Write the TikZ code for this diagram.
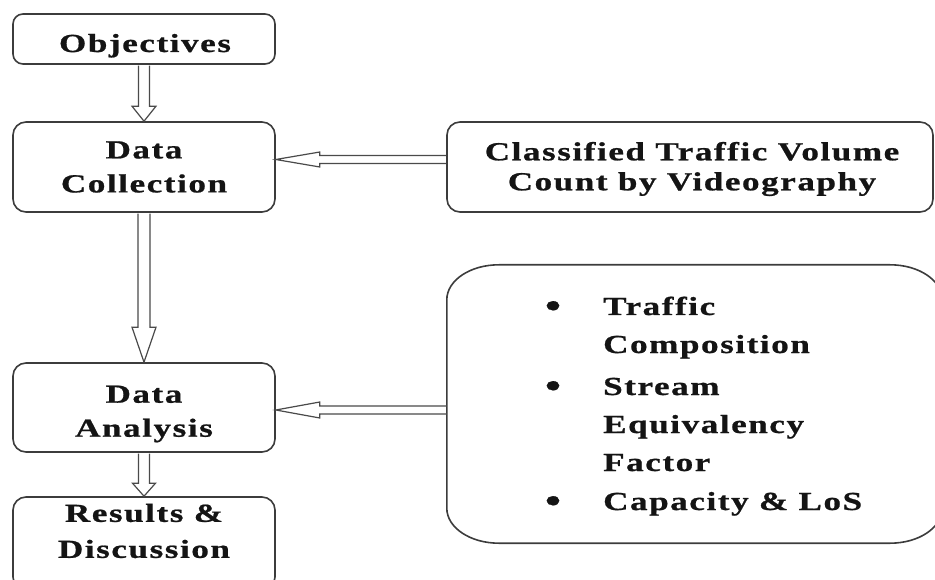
\documentclass[tikz,border=0pt]{standalone}
\usepackage{fontspec}
\setmainfont{Liberation Serif}[FakeStretch=1.35, LetterSpace=6, FakeBold=0.8]
\usetikzlibrary{calc}

\definecolor{linegray}{HTML}{3C3C3C}
\definecolor{arrowgray}{HTML}{4A4A4A}
\definecolor{inkblack}{HTML}{141414}

\newcommand\flowfont{\bfseries\fontsize{26}{34}\selectfont}

% hollow block arrow pointing down: start, tip, head length, shaft half width, head half width
\newcommand\blockdown[5]{%
  \draw[arrowline] ($(#1)+(-#4,0)$) -- ($(#2)+(-#4,-#3)$) -- ($(#2)+(-#5,-#3)$)
    -- (#2) -- ($(#2)+(#5,-#3)$) -- ($(#2)+(#4,-#3)$) -- ($(#1)+(#4,0)$);}
% hollow block arrow pointing left: start, tip, head length, shaft half height, head half height
\newcommand\blockleft[5]{%
  \draw[arrowline] ($(#1)+(0,-#4)$) -- ($(#2)+(#3,-#4)$) -- ($(#2)+(#3,-#5)$)
    -- (#2) -- ($(#2)+(#3,#5)$) -- ($(#2)+(#3,#4)$) -- ($(#1)+(0,#4)$);}

\begin{document}
\begin{tikzpicture}[
  x=1pt, y=-1pt,
  boxline/.style={draw=linegray, line width=1.6pt},
  framebox/.style={boxline, rounded corners=13pt, inner sep=0pt},
  flowtext/.style={inner sep=0pt, align=center, text=inkblack, font=\flowfont},
  itemtext/.style={inner sep=0pt, anchor=base west, text=inkblack, font=\flowfont},
  itemdot/.style={inner sep=0pt, anchor=base, text=inkblack, font=\bfseries\fontsize{34}{34}\selectfont},
  arrowline/.style={draw=arrowgray, line width=1.2pt, line join=miter},
]
\fill[white] (0,0) rectangle (935,580);
\useasboundingbox (0,0) rectangle (935,580);

% left column of stages
\node[framebox, rounded corners=10pt, minimum width=262pt, minimum height=50pt] (obj) at (144,39) {};
\node[framebox, minimum width=262pt, minimum height=90pt] (dc) at (144,167) {};
\node[framebox, minimum width=262pt, minimum height=89pt] (da) at (144,407.5) {};
\node[framebox, minimum width=262pt, minimum height=93pt] (res) at (144,543.5) {};

\node[flowtext, anchor=base] (objt) at (145,52) {Objectives};
\node[flowtext] (dct) at (144,167) {Data\\Collection};
\node[flowtext] (dat) at (144,414) {Data\\Analysis};
\node[flowtext, font=\bfseries\fontsize{26}{36}\selectfont] (rest) at (144,531) {Results \&\\Discussion};

% data source
\node[framebox, minimum width=486pt, minimum height=90pt] (cls) at (690,167) {};
\node[flowtext, font=\bfseries\fontsize{26}{30}\selectfont] (clst) at (692,169)
  {Classified Traffic Volume\\Count by Videography};

% analysis topics
\node[minimum width=495pt, minimum height=278pt, inner sep=0pt] (bul) at (694.5,404) {};
\draw[boxline] ([xshift=52pt]bul.north west) -- ([xshift=-52pt]bul.north east)
  arc[start angle=90, end angle=0, x radius=52pt, y radius=35pt]
  -- ([yshift=35pt]bul.south east)
  arc[start angle=0, end angle=-90, x radius=52pt, y radius=35pt]
  -- ([xshift=52pt]bul.south west)
  arc[start angle=-90, end angle=-180, x radius=52pt, y radius=35pt]
  -- ([yshift=-35pt]bul.north west)
  arc[start angle=180, end angle=90, x radius=52pt, y radius=35pt] -- cycle;

\node[itemdot] (d1) at (553,317) {•};
\node[itemdot] (d2) at (553,397) {•};
\node[itemdot] (d3) at (553,512) {•};
\node[itemtext] (i1) at (603,315) {Traffic};
\node[itemtext] (i2) at (603,353) {Composition};
\node[itemtext] (i3) at (603,395) {Stream};
\node[itemtext] (i4) at (603,433) {Equivalency};
\node[itemtext] (i5) at (603,471) {Factor};
\node[itemtext] (i6) at (603,510) {Capacity \& LoS};

% block arrows
\coordinate (a1s) at ($(obj.south)+(0,0.8)$);
\blockdown{a1s}{dc.north}{15}{5.5}{12}
\coordinate (a2s) at ($(dc.south)+(0,0.8)$);
\blockdown{a2s}{da.north}{35}{6}{12}
\coordinate (a3s) at ($(da.south)+(0,0.8)$);
\blockdown{a3s}{res.north}{13}{5.5}{11.5}

\coordinate (a4t) at ($(dc.east)+(0,-7.5)$);
\coordinate (a4s) at (a4t -| cls.west);
\blockleft{a4s}{a4t}{44}{4}{7.5}
\coordinate (a5t) at ($(da.east)+(0,2.5)$);
\coordinate (a5s) at (a5t -| bul.west);
\blockleft{a5s}{a5t}{44}{4}{8}
\end{tikzpicture}
\end{document}
